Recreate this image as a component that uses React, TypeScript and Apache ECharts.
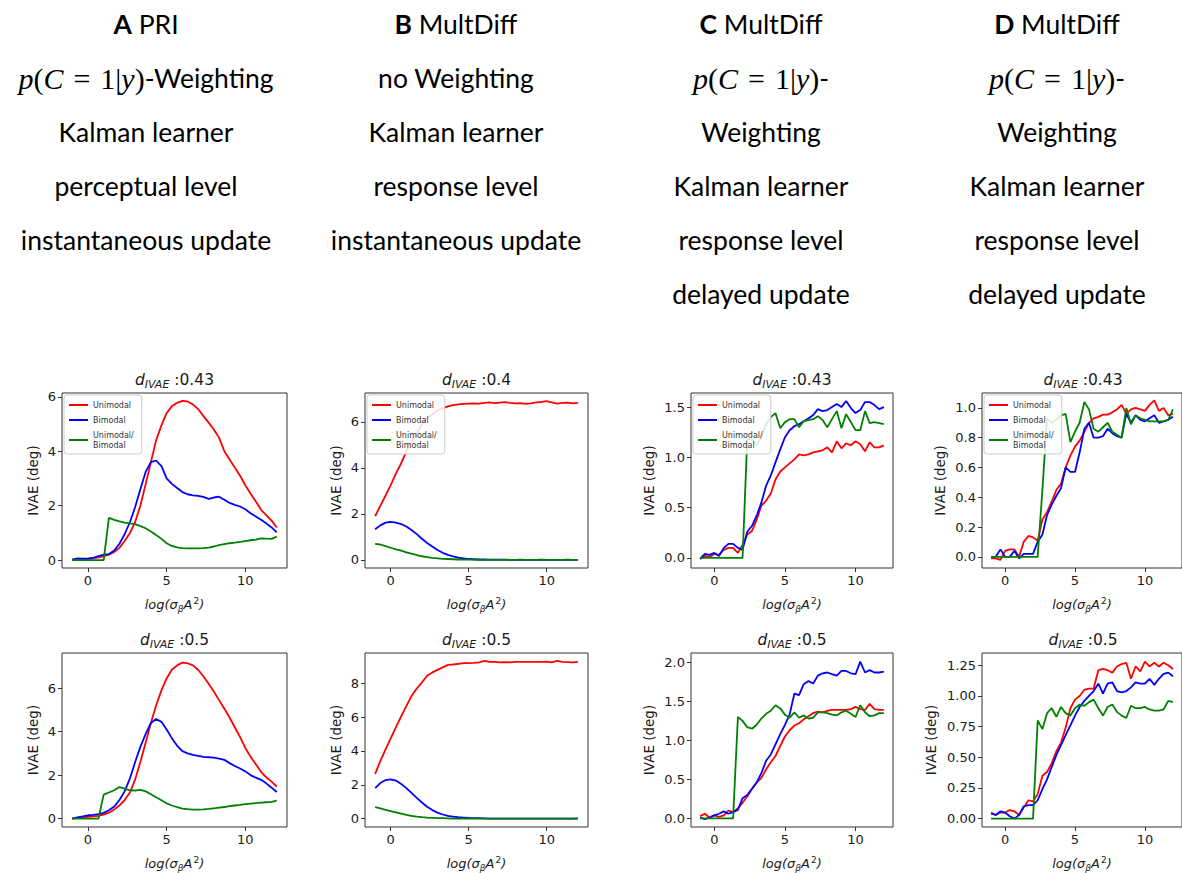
import React, { useEffect, useRef } from "react";
import * as echarts from "echarts";

// x positions (log(sigma_beta A^2))
const xs = [-1, -0.67, -0.33, 0, 0.33, 0.67, 1, 1.33, 1.67, 2, 2.33, 2.67, 3, 3.33, 3.67, 4, 4.33, 4.67, 5, 5.33, 5.67, 6, 6.33, 6.67, 7, 7.33, 7.67, 8, 8.33, 8.67, 9, 9.33, 9.67, 10, 10.33, 10.67, 11, 11.33, 11.67, 12];

const seriesNames = ["Unimodal", "Bimodal", "Unimodal/Bimodal"];
const seriesColors = ["#ff0000", "#0000ff", "#008000"];

// Panel A, top (d = 0.43)
const aTopUni = [0.02, 0.03, 0.04, 0.05, 0.07, 0.1, 0.15, 0.2, 0.3, 0.45, 0.7, 1.0, 1.4, 2.0, 2.8, 3.6, 4.4, 4.95, 5.4, 5.65, 5.78, 5.85, 5.83, 5.72, 5.55, 5.3, 5.05, 4.8, 4.5, 4.0, 3.7, 3.4, 3.1, 2.75, 2.45, 2.15, 1.85, 1.65, 1.45, 1.2];
const aTopBi = [0.02, 0.06, 0.05, 0.05, 0.08, 0.15, 0.2, 0.22, 0.35, 0.6, 0.95, 1.4, 1.95, 2.6, 3.25, 3.6, 3.66, 3.45, 3.0, 2.8, 2.65, 2.5, 2.42, 2.38, 2.36, 2.32, 2.25, 2.3, 2.33, 2.22, 2.1, 2.03, 1.97, 1.87, 1.72, 1.6, 1.48, 1.35, 1.2, 1.02];
const aTopMix = [0, 0, 0, 0, 0, 0, 0, 1.55, 1.48, 1.42, 1.38, 1.35, 1.32, 1.25, 1.17, 1.05, 0.92, 0.78, 0.62, 0.52, 0.47, 0.44, 0.43, 0.43, 0.43, 0.44, 0.46, 0.5, 0.55, 0.59, 0.62, 0.64, 0.67, 0.7, 0.73, 0.75, 0.8, 0.79, 0.78, 0.86];

// Panel B, top (d = 0.4)
const bTopUni = [1.9, 2.35, 2.8, 3.25, 3.75, 4.2, 4.7, 5.15, 5.5, 5.9, 6.15, 6.33, 6.5, 6.58, 6.67, 6.72, 6.76, 6.78, 6.79, 6.8, 6.79, 6.82, 6.84, 6.81, 6.83, 6.85, 6.82, 6.8, 6.81, 6.78, 6.8, 6.84, 6.86, 6.9, 6.84, 6.79, 6.82, 6.83, 6.8, 6.82];
const bTopBi = [1.33, 1.5, 1.62, 1.65, 1.62, 1.56, 1.45, 1.3, 1.12, 0.92, 0.74, 0.58, 0.43, 0.31, 0.22, 0.15, 0.1, 0.07, 0.04, 0.03, 0.02, 0.02, 0.01, 0.01, 0.01, 0.01, 0, 0, 0.01, 0, 0, 0, 0.01, 0, 0, 0, 0, 0.01, 0, 0];
const bTopMix = [0.7, 0.67, 0.6, 0.53, 0.46, 0.4, 0.33, 0.27, 0.21, 0.16, 0.12, 0.09, 0.07, 0.05, 0.04, 0.03, 0.02, 0.01, 0.01, 0.01, 0, 0, 0, 0, 0, 0, 0, 0, 0, 0, 0, 0, 0, 0, 0, 0, 0, 0, 0, 0];

// Panel C, top (d = 0.43)
const cTopUni = [-0.01, 0.02, 0.01, 0.04, 0.03, 0.08, 0.1, 0.1, 0.05, 0.13, 0.23, 0.27, 0.38, 0.52, 0.57, 0.64, 0.78, 0.86, 0.9, 0.94, 0.98, 1.03, 1.02, 1.03, 1.05, 1.06, 1.07, 1.1, 1.05, 1.16, 1.09, 1.14, 1.12, 1.16, 1.13, 1.06, 1.15, 1.1, 1.1, 1.12];
const cTopBi = [-0.01, 0.04, 0.03, 0.05, 0.02, 0.1, 0.14, 0.14, 0.1, 0.08, 0.26, 0.32, 0.42, 0.55, 0.72, 0.82, 0.95, 1.08, 1.2, 1.27, 1.31, 1.33, 1.36, 1.39, 1.42, 1.48, 1.46, 1.47, 1.5, 1.53, 1.5, 1.56, 1.49, 1.44, 1.47, 1.55, 1.55, 1.52, 1.48, 1.5];
const cTopMix = [0, 0, 0, 0, 0, 0, 0, 0, 0, 0, 1.18, 1.18, 1.12, 1.2, 1.33, 1.4, 1.44, 1.29, 1.35, 1.38, 1.38, 1.3, 1.36, 1.37, 1.38, 1.41, 1.37, 1.3, 1.38, 1.46, 1.29, 1.43, 1.35, 1.27, 1.27, 1.46, 1.34, 1.35, 1.34, 1.33];

// Panel D, top (d = 0.43)
const dTopUni = [-0.01, -0.01, -0.02, 0.04, 0.05, 0.05, 0, 0.1, 0.14, 0.13, 0.11, 0.25, 0.3, 0.37, 0.45, 0.49, 0.6, 0.68, 0.74, 0.78, 0.84, 0.9, 0.93, 0.94, 0.955, 0.955, 0.97, 0.99, 1.02, 0.96, 0.99, 1.0, 0.99, 0.98, 1.02, 1.05, 0.98, 1.0, 0.95, 0.96];
const dTopBi = [0, 0, 0.05, 0, 0, 0.04, -0.01, 0.02, 0.02, 0.02, 0.1, 0.15, 0.28, 0.35, 0.41, 0.46, 0.6, 0.57, 0.57, 0.7, 0.86, 0.9, 0.8, 0.8, 0.81, 0.86, 0.83, 0.81, 0.8, 0.96, 0.9, 0.95, 0.92, 0.91, 0.93, 0.95, 0.9, 0.91, 0.92, 0.94];
const dTopMix = [0, 0, 0, 0, 0, 0, 0, 0, 0, 0, 0, 0.45, 0.93, 0.9, 0.92, 0.95, 0.96, 0.77, 0.84, 0.9, 1.04, 0.99, 0.86, 0.84, 0.87, 0.9, 0.84, 0.82, 0.8, 1.0, 0.89, 0.95, 0.93, 0.92, 0.91, 0.91, 0.91, 0.91, 0.92, 0.99];

// Panel A, bottom (d = 0.5)
const aBotUni = [0, 0.03, 0.06, 0.08, 0.1, 0.12, 0.18, 0.27, 0.42, 0.6, 0.85, 1.2, 1.8, 2.6, 3.5, 4.4, 5.2, 5.9, 6.45, 6.85, 7.05, 7.18, 7.15, 7.05, 6.85, 6.55, 6.2, 5.85, 5.45, 5.05, 4.65, 4.2, 3.75, 3.25, 2.85, 2.5, 2.15, 1.9, 1.7, 1.47];
const aBotBi = [0, 0.05, 0.1, 0.15, 0.17, 0.2, 0.26, 0.38, 0.55, 0.85, 1.25, 1.85, 2.6, 3.3, 3.9, 4.4, 4.58, 4.45, 4.1, 3.7, 3.35, 3.1, 3.0, 2.93, 2.88, 2.84, 2.82, 2.8, 2.76, 2.7, 2.55, 2.42, 2.3, 2.17, 2.0, 1.88, 1.78, 1.62, 1.42, 1.22];
const aBotMix = [0, 0, 0, 0, 0, 0, 1.1, 1.2, 1.3, 1.45, 1.38, 1.3, 1.29, 1.32, 1.25, 1.12, 0.98, 0.84, 0.7, 0.6, 0.52, 0.46, 0.43, 0.41, 0.41, 0.42, 0.44, 0.47, 0.5, 0.53, 0.57, 0.6, 0.63, 0.66, 0.69, 0.71, 0.73, 0.75, 0.77, 0.82];

// Panel B, bottom (d = 0.5)
const bBotUni = [2.65, 3.4, 4.1, 4.75, 5.4, 6.05, 6.65, 7.25, 7.7, 8.05, 8.45, 8.65, 8.8, 8.95, 9.1, 9.12, 9.16, 9.2, 9.2, 9.22, 9.25, 9.33, 9.27, 9.28, 9.25, 9.26, 9.25, 9.27, 9.28, 9.28, 9.28, 9.27, 9.28, 9.29, 9.25, 9.33, 9.27, 9.26, 9.25, 9.27];
const bBotBi = [1.8, 2.1, 2.28, 2.32, 2.25, 2.05, 1.8, 1.52, 1.22, 0.95, 0.7, 0.5, 0.35, 0.24, 0.16, 0.11, 0.08, 0.06, 0.04, 0.03, 0.02, 0.01, 0, 0, 0, 0, 0, 0, 0, 0, 0, 0, 0, 0, -0.01, 0, 0, 0, 0, 0.01];
const bBotMix = [0.68, 0.6, 0.52, 0.44, 0.36, 0.29, 0.22, 0.16, 0.11, 0.08, 0.05, 0.04, 0.03, 0.02, 0.01, 0, 0, 0, 0, 0, 0, 0, 0, 0, 0, 0, 0, 0, 0, 0, 0, 0, 0, 0, 0, 0, 0, 0, 0, 0];

// Panel C, bottom (d = 0.5)
const cBotUni = [0.03, 0.06, 0.01, 0.04, 0.02, 0.04, 0.1, 0.08, 0.13, 0.2, 0.28, 0.38, 0.46, 0.52, 0.63, 0.72, 0.8, 0.93, 1.05, 1.13, 1.19, 1.22, 1.27, 1.31, 1.35, 1.37, 1.36, 1.38, 1.39, 1.39, 1.39, 1.39, 1.4, 1.43, 1.4, 1.39, 1.47, 1.4, 1.39, 1.39];
const cBotBi = [0.01, -0.01, 0.01, 0.04, 0.06, 0.09, 0.06, 0.08, 0.11, 0.26, 0.3, 0.38, 0.46, 0.58, 0.74, 0.82, 0.95, 1.08, 1.2, 1.33, 1.6, 1.58, 1.72, 1.76, 1.73, 1.83, 1.86, 1.87, 1.85, 1.83, 1.89, 1.89, 1.86, 1.85, 2.01, 1.87, 1.9, 1.87, 1.87, 1.88];
const cBotMix = [0, 0, 0, 0, 0, 0, 0, 0, 1.3, 1.25, 1.17, 1.15, 1.2, 1.28, 1.34, 1.38, 1.45, 1.41, 1.33, 1.29, 1.36, 1.29, 1.32, 1.28, 1.29, 1.36, 1.36, 1.35, 1.33, 1.32, 1.36, 1.38, 1.34, 1.3, 1.45, 1.36, 1.31, 1.32, 1.35, 1.35];

// Panel D, bottom (d = 0.5)
const dBotUni = [0.05, 0.03, 0.05, 0.05, 0.07, 0.06, 0.03, 0.09, 0.15, 0.14, 0.2, 0.35, 0.38, 0.45, 0.55, 0.62, 0.74, 0.9, 0.97, 1.0, 1.05, 1.06, 1.06, 1.21, 1.22, 1.21, 1.19, 1.24, 1.26, 1.27, 1.14, 1.24, 1.2, 1.28, 1.24, 1.27, 1.24, 1.27, 1.25, 1.22];
const dBotBi = [0.04, 0.03, 0.06, 0.05, 0.02, 0, 0.03, 0.1, 0.11, 0.11, 0.15, 0.24, 0.32, 0.42, 0.52, 0.6, 0.68, 0.76, 0.84, 0.91, 0.96, 1.0, 1.04, 1.1, 1.02, 1.1, 1.11, 1.04, 1.03, 1.04, 1.07, 1.11, 1.1, 1.1, 1.14, 1.09, 1.14, 1.18, 1.19, 1.16];
const dBotMix = [0, 0, 0, 0, 0, 0, 0, 0, 0, 0, 0.8, 0.73, 0.86, 0.9, 0.83, 0.91, 0.86, 0.84, 0.9, 0.93, 0.92, 0.95, 0.97, 0.9, 0.84, 0.91, 0.93, 0.87, 0.84, 0.82, 0.92, 0.9, 0.9, 0.91, 0.89, 0.88, 0.88, 0.89, 0.96, 0.95];

// tick values
const xTicks = [0, 5, 10];
const yTicksA = [0, 2, 4, 6];
const yTicksB = [0, 2, 4, 6];
const yTicksBBot = [0, 2, 4, 6, 8];
const yTicksCTop = [0, 0.5, 1.0, 1.5];
const yTicksCBot = [0, 0.5, 1.0, 1.5, 2.0];
const yTicksDTop = [0, 0.2, 0.4, 0.6, 0.8, 1.0];
const yTicksDBot = [0, 0.25, 0.5, 0.75, 1.0, 1.25];

const titlesTop = ["0.43", "0.4", "0.43", "0.43"];
const titlesBot = ["0.5", "0.5", "0.5", "0.5"];

// header texts per column
const MATH = "{m|p}{n|(}{m|C}{n|\u2004=\u20041|}{m|y}{n|)}";
const headerA = ["{b|A} PRI", MATH + "-Weighting", "Kalman learner", "perceptual level", "instantaneous update"];
const headerB = ["{b|B} MultDiff", "no Weighting", "Kalman learner", "response level", "instantaneous update"];
const headerC = ["{b|C} MultDiff", MATH + "-", "Weighting", "Kalman learner", "response level", "delayed update"];
const headerD = ["{b|D} MultDiff", MATH + "-", "Weighting", "Kalman learner", "response level", "delayed update"];

const headers = [
  { cx: 146, lines: headerA },
  { cx: 456, lines: headerB },
  { cx: 761, lines: headerC },
  { cx: 1057, lines: headerD },
];

const panels = [
  { left: 62, top: 393, width: 225, height: 175, ymin: -0.29, ymax: 6.14, ticks: yTicksA, dec: 0, title: titlesTop[0], gap: 22, data: [aTopUni, aTopBi, aTopMix], legend: true },
  { left: 365, top: 393, width: 223, height: 175, ymin: -0.35, ymax: 7.25, ticks: yTicksB, dec: 0, title: titlesTop[1], gap: 22, data: [bTopUni, bTopBi, bTopMix], legend: true },
  { left: 691, top: 393, width: 202, height: 175, ymin: -0.1, ymax: 1.64, ticks: yTicksCTop, dec: 1, title: titlesTop[2], gap: 35, data: [cTopUni, cTopBi, cTopMix], legend: true },
  { left: 982, top: 393, width: 202, height: 175, ymin: -0.075, ymax: 1.1, ticks: yTicksDTop, dec: 1, title: titlesTop[3], gap: 35, data: [dTopUni, dTopBi, dTopMix], legend: true },
  { left: 62, top: 653, width: 225, height: 176, ymin: -0.39, ymax: 7.62, ticks: yTicksA, dec: 0, title: titlesBot[0], gap: 22, data: [aBotUni, aBotBi, aBotMix], legend: false },
  { left: 365, top: 653, width: 223, height: 176, ymin: -0.5, ymax: 9.8, ticks: yTicksBBot, dec: 0, title: titlesBot[1], gap: 22, data: [bBotUni, bBotBi, bBotMix], legend: false },
  { left: 691, top: 653, width: 202, height: 176, ymin: -0.11, ymax: 2.12, ticks: yTicksCBot, dec: 1, title: titlesBot[2], gap: 35, data: [cBotUni, cBotBi, cBotMix], legend: false },
  { left: 982, top: 653, width: 202, height: 176, ymin: -0.068, ymax: 1.35, ticks: yTicksDBot, dec: 2, title: titlesBot[3], gap: 44, data: [dBotUni, dBotBi, dBotMix], legend: false },
];

const AXIS_FONT = "DejaVu Sans";
const TEXT_COLOR = "#1a1a1a";
const TICK_SIZE = 13;

function buildOption() {
  const grid: any[] = [];
  const xAxis: any[] = [];
  const yAxis: any[] = [];
  const series: any[] = [];
  const legend: any[] = [];
  const graphic: any[] = [];

  panels.forEach((p, k) => {
    grid.push({
      left: p.left,
      top: p.top,
      width: p.width,
      height: p.height,
      show: true,
      borderColor: "#333",
      borderWidth: 1,
      backgroundColor: "transparent",
      containLabel: false,
    });
    xAxis.push({
      type: "value",
      gridIndex: k,
      position: "bottom",
      min: -1.65,
      max: 12.65,
      axisLine: { show: false, onZero: false },
      splitLine: { show: false },
      axisTick: { show: true, length: 4, lineStyle: { color: "#333" }, customValues: xTicks },
      axisLabel: {
        customValues: xTicks,
        color: TEXT_COLOR,
        fontSize: TICK_SIZE,
        fontFamily: AXIS_FONT,
        margin: 6,
      },
      name: "{t|log(σ}{s|β}{t|A}{p|2}{t|)}",
      nameLocation: "middle",
      nameGap: 28,
      nameTextStyle: {
        color: TEXT_COLOR,
        fontFamily: AXIS_FONT,
        fontSize: 13,
        rich: {
          t: { fontStyle: "italic", fontSize: 13, fontFamily: AXIS_FONT, color: TEXT_COLOR, lineHeight: 17 },
          s: { fontStyle: "italic", fontSize: 9, fontFamily: AXIS_FONT, color: TEXT_COLOR, lineHeight: 10, verticalAlign: "bottom" },
          p: { fontSize: 9, fontFamily: AXIS_FONT, color: TEXT_COLOR, lineHeight: 10, verticalAlign: "top", padding: [0, 0, 0, 1] },
        },
      },
    });
    yAxis.push({
      type: "value",
      gridIndex: k,
      position: "left",
      min: p.ymin,
      max: p.ymax,
      axisLine: { show: false, onZero: false },
      splitLine: { show: false },
      axisTick: { show: true, length: 4, lineStyle: { color: "#333" }, customValues: p.ticks },
      axisLabel: {
        customValues: p.ticks,
        color: TEXT_COLOR,
        fontSize: TICK_SIZE,
        fontFamily: AXIS_FONT,
        margin: 6,
        formatter: (v: number) => v.toFixed(p.dec),
      },
      name: "IVAE (deg)",
      nameLocation: "middle",
      nameGap: p.gap,
      nameTextStyle: { color: TEXT_COLOR, fontSize: 13.5, fontFamily: AXIS_FONT },
    });
    p.data.forEach((vals, j) => {
      series.push({
        type: "line",
        name: seriesNames[j],
        xAxisIndex: k,
        yAxisIndex: k,
        showSymbol: false,
        symbol: "none",
        color: seriesColors[j],
        lineStyle: { width: 1.8, color: seriesColors[j] },
        data: xs.map((x, i) => [x, vals[i]]),
        z: 2,
      });
    });
    if (p.legend) {
      legend.push({
        left: p.left + 2,
        top: p.top + 2,
        orient: "vertical",
        icon: "rect",
        itemWidth: 19,
        itemHeight: 2,
        itemGap: 5,
        padding: [5, 8, 4, 5],
        backgroundColor: "rgba(255,255,255,0.85)",
        borderColor: "#ccc",
        borderWidth: 1,
        borderRadius: 3,
        selectedMode: false,
        data: seriesNames,
        formatter: (name: string) => (name === "Unimodal/Bimodal" ? "Unimodal/\nBimodal" : name),
        textStyle: { fontSize: 8, fontFamily: AXIS_FONT, color: "#333", lineHeight: 10 },
        z: 10,
      });
    }
    graphic.push({
      type: "text",
      x: p.left + p.width / 2,
      y: p.top - 13,
      style: {
        text: "{d|d}{s|IVAE}{t| :" + p.title + "}",
        align: "center",
        verticalAlign: "middle",
        fill: TEXT_COLOR,
        fontFamily: AXIS_FONT,
        fontSize: 15.5,
        rich: {
          d: { fontStyle: "italic", fontSize: 15.5, fontFamily: AXIS_FONT, fill: TEXT_COLOR, lineHeight: 19 },
          s: { fontStyle: "italic", fontSize: 11, fontFamily: AXIS_FONT, fill: TEXT_COLOR, lineHeight: 12, verticalAlign: "bottom" },
          t: { fontSize: 15.5, fontFamily: AXIS_FONT, fill: TEXT_COLOR, lineHeight: 19 },
        },
      },
    });
  });

  headers.forEach((h) => {
    h.lines.forEach((line, i) => {
      graphic.push({
        type: "text",
        x: h.cx,
        y: 24 + 54 * i,
        style: {
          text: line,
          align: "center",
          verticalAlign: "middle",
          fill: "#000",
          fontFamily: "Lato",
          fontSize: 26.5,
          rich: {
            b: { fontWeight: "bold", fontFamily: "Lato", fontSize: 26.5, fill: "#000" },
            m: { fontStyle: "italic", fontFamily: "Liberation Serif", fontSize: 30, fill: "#000" },
            n: { fontFamily: "Liberation Serif", fontSize: 30, fill: "#000" },
          },
        },
      });
    });
  });

  return {
    animation: false,
    backgroundColor: "#ffffff",
    grid,
    xAxis,
    yAxis,
    series,
    legend,
    graphic,
  };
}

export default function App() {
  const ref = useRef<HTMLDivElement>(null);
  useEffect(() => {
    if (!ref.current) return;
    const chart = echarts.init(ref.current, undefined, { renderer: "svg" });
    chart.setOption(buildOption() as any);
    return () => chart.dispose();
  }, []);
  return (
    <div
      ref={ref}
      style={{ position: "fixed", left: 0, top: 0, width: 1182, height: 873, background: "#fff" }}
    />
  );
}
